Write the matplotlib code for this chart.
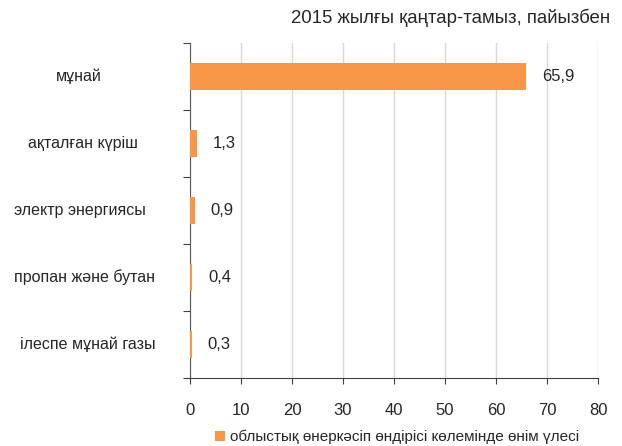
import matplotlib.pyplot as plt
import numpy as np
from matplotlib.transforms import blended_transform_factory

plt.rcParams['font.family'] = ['Liberation Sans', 'DejaVu Sans']

categories = ['мұнай', 'ақталған күріш', 'электр энергиясы', 'пропан және бутан', 'ілеспе мұнай газы']
values = [65.9, 1.3, 0.9, 0.4, 0.3]
x_ticks = [0, 10, 20, 30, 40, 50, 60, 70, 80]
title = '2015 жылғы қаңтар-тамыз, пайызбен'
legend_label = 'облыстық өнеркәсіп өндірісі көлемінде өнім үлесі'

# pixel centres of the category labels (layout only)
label_x = [78.5, 82.5, 80, 84, 88]

bar_color = '#F79646'
text_color = '#262626'

W, H = 622, 446
fig = plt.figure(figsize=(W / 100, H / 100), dpi=100)
fig.patch.set_facecolor('white')
# plot area in pixels: x 190..598, y 43..378 (from top)
ax = fig.add_axes([190 / W, 1 - 378 / H, (598 - 190) / W, (378 - 43) / H])

pos = np.arange(len(categories))
ax.barh(pos, values, height=0.4, color=bar_color, zorder=3, label=legend_label)
ax.set_ylim(len(categories) - 0.5, -0.5)
ax.set_xlim(0, 80)
ax.set_xticks(x_ticks)
ax.set_xticklabels([str(t) for t in x_ticks], fontsize=12, color=text_color)
ax.tick_params(axis='x', length=4, pad=14, color='#404040')

# ticks at category boundaries
ax.set_yticks(np.arange(len(categories) + 1) - 0.5)
ax.set_yticklabels([])
ax.tick_params(axis='y', length=5, color='#404040')

trans = blended_transform_factory(fig.transFigure, ax.transData)
for i, c in enumerate(categories):
    ax.text(label_x[i] / W, pos[i], c, transform=trans,
            ha='center', va='center', fontsize=11.5, color=text_color)

ax.grid(axis='x', color='#D9D9D9', linewidth=1, zorder=0)
for s in ['top', 'right']:
    ax.spines[s].set_visible(False)
ax.spines['left'].set_color('#595959')
ax.spines['bottom'].set_color('#404040')

for i, v in enumerate(values):
    ax.annotate(f'{v:.1f}'.replace('.', ','), (v, pos[i]), xytext=(16, 0), textcoords='offset pixels',
                ha='left', va='center', fontsize=12, color=text_color)

fig.text(610 / W, 1 - 18 / H, title, ha='right', va='center', fontsize=13.4, color=text_color)

leg = fig.legend(loc='center', bbox_to_anchor=(397 / W, 1 - 437 / H), frameon=False, fontsize=11,
                 handlelength=0.7, handleheight=0.7, handletextpad=0.3, borderpad=0)
for t in leg.get_texts():
    t.set_color(text_color)

fig.savefig('out.png', dpi=100, facecolor='white')
